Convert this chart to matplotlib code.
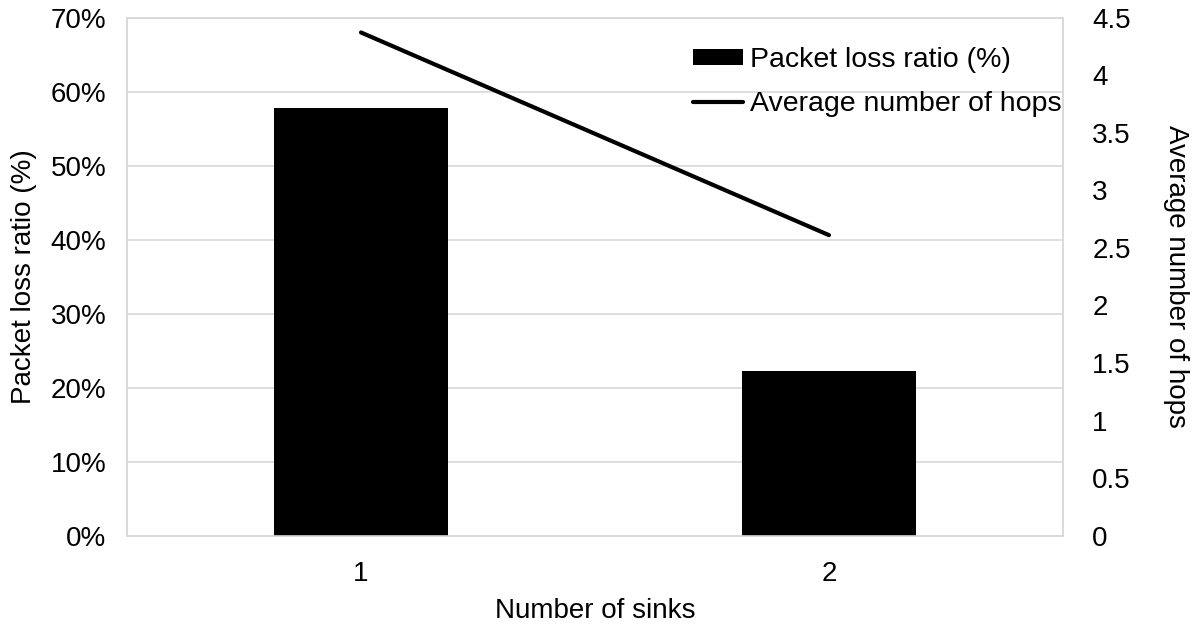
import matplotlib
matplotlib.use("Agg")
import matplotlib.pyplot as plt
from matplotlib.ticker import FuncFormatter

plt.rcParams['font.family'] = ['Liberation Sans', 'DejaVu Sans']

categories = ['1', '2']
packet_loss = [57.8, 22.2]          # %
avg_hops = [4.37, 2.61]
left_ticks = [0, 10, 20, 30, 40, 50, 60, 70]
right_ticks = [0, 0.5, 1, 1.5, 2, 2.5, 3, 3.5, 4, 4.5]

W, H = 1200, 630
fig = plt.figure(figsize=(W / 100, H / 100), dpi=100)
ax = fig.add_axes([127 / W, 1 - 535.7 / H, (1063 - 127) / W, (535.7 - 17.5) / H])
ax2 = ax.twinx()

x = list(range(len(categories)))
grid_c = '#d9d9d9'

ax.bar(x, packet_loss, width=0.37, color='black', label='Packet loss ratio (%)', zorder=3)
ax2.plot(x, avg_hops, color='black', lw=3, solid_capstyle='round',
         label='Average number of hops', zorder=4)

ax.set_xlim(-0.5, 1.5)
ax.set_ylim(0, 70)
ax2.set_ylim(0, 4.5)
ax.set_yticks(left_ticks)
ax2.set_yticks(right_ticks)
ax.yaxis.set_major_formatter(FuncFormatter(lambda v, p: f"{int(round(v))}%"))
ax2.yaxis.set_major_formatter(FuncFormatter(lambda v, p: f"{v:g}"))
ax.set_xticks(x)
ax.set_xticklabels(categories)

ax.grid(axis='y', color=grid_c, lw=1.2, zorder=0)
ax.set_axisbelow(True)
for a in (ax, ax2):
    for s in a.spines.values():
        s.set_color(grid_c)
        s.set_linewidth(1.2)
    a.tick_params(length=0, labelsize=20, colors='black')
ax.tick_params(axis='y', pad=15)
ax2.tick_params(axis='y', pad=21)
ax.tick_params(axis='x', pad=18)

ax.set_xlabel('Number of sinks', fontsize=20, labelpad=8)
ax.set_ylabel('Packet loss ratio (%)', fontsize=20, labelpad=10)
ax2.set_ylabel('Average number of hops', fontsize=20, rotation=270, labelpad=42)

h1, l1 = ax.get_legend_handles_labels()
h2, l2 = ax2.get_legend_handles_labels()
fig.legend(h1 + h2, l1 + l2, loc='upper left',
           bbox_to_anchor=(693 / W, 1 - 47 / H), frameon=False,
           fontsize=20.5, borderpad=0, borderaxespad=0, handlelength=1.75,
           handleheight=0.5, handletextpad=0.25, labelspacing=0.62)

fig.savefig('out.png', dpi=100)
